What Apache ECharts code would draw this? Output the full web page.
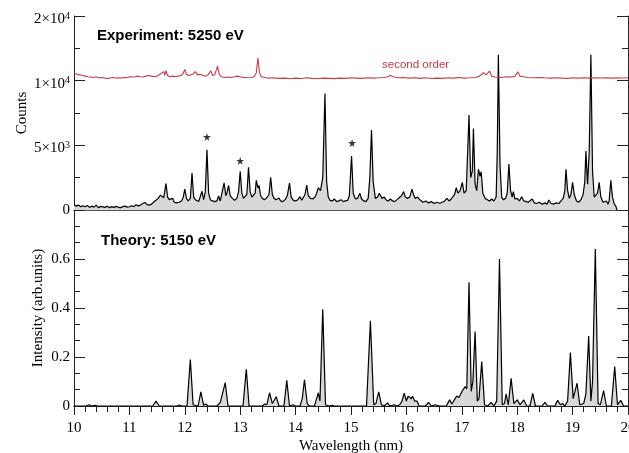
<!DOCTYPE html>
<html>
<head>
<meta charset="utf-8">
<script src="https://cdn.jsdelivr.net/npm/echarts@6/dist/echarts.min.js"></script>
<style>
html,body{margin:0;padding:0;background:#fff;}
#chart{width:629px;height:453px;}
</style>
</head>
<body>
<div id="chart"></div>
<script>
// ---- Data ----
// Experiment (counts) vs wavelength (nm)
var experimentData = [
[10.00,400],[10.04,300],[10.08,380],[10.12,260],[10.16,330],[10.20,250],[10.24,350],[10.28,200],[10.32,300],[10.36,220],
[10.40,380],[10.44,180],[10.48,280],[10.52,240],[10.56,200],[10.60,300],[10.64,180],[10.68,260],[10.72,200],[10.76,280],
[10.80,220],[10.84,170],[10.88,260],[10.92,300],[10.96,220],[11.00,250],[11.04,330],[11.08,260],[11.12,400],[11.16,320],
[11.20,380],[11.24,500],[11.28,580],[11.32,420],[11.36,380],[11.40,450],[11.44,620],[11.48,750],[11.52,900],[11.56,1150],
[11.59,1250],[11.62,950],[11.66,2050],[11.69,1000],[11.72,800],[11.75,700],[11.78,900],[11.81,600],[11.85,550],[11.90,600],
[11.94,700],[11.97,950],[12.00,1620],[12.03,900],[12.06,700],[12.10,900],[12.13,2850],[12.16,1000],[12.19,800],[12.22,700],
[12.25,650],[12.28,800],[12.31,1450],[12.34,800],[12.37,1400],[12.40,4650],[12.43,1300],[12.46,800],[12.50,700],[12.54,650],
[12.58,700],[12.61,1080],[12.64,700],[12.67,750],[12.71,2100],[12.74,1100],[12.76,1300],[12.79,1900],[12.82,1100],[12.86,900],
[12.90,750],[12.94,900],[12.97,1400],[13.00,3000],[13.03,1300],[13.06,900],[13.09,800],[13.12,1200],[13.15,3300],[13.18,1400],
[13.21,1000],[13.24,900],[13.27,1300],[13.29,2300],[13.32,1700],[13.34,1900],[13.37,1100],[13.40,900],[13.44,800],[13.48,950],
[13.52,1200],[13.55,2530],[13.58,1200],[13.61,900],[13.65,800],[13.70,930],[13.73,700],[13.77,650],[13.81,800],[13.85,1100],
[13.89,2080],[13.92,1000],[13.96,750],[14.00,700],[14.04,800],[14.08,1030],[14.11,750],[14.14,850],[14.17,1200],[14.20,1930],
[14.23,1100],[14.27,900],[14.31,850],[14.35,1000],[14.38,1300],[14.41,1720],[14.45,1500],[14.49,2500],[14.53,9000],[14.56,2200],
[14.59,1000],[14.62,750],[14.66,700],[14.70,850],[14.74,650],[14.78,700],[14.82,800],[14.86,650],[14.90,700],[14.94,750],
[14.97,1100],[15.01,4170],[15.04,1300],[15.08,850],[15.12,900],[15.16,1290],[15.19,850],[15.23,700],[15.27,650],[15.31,900],
[15.34,2500],[15.37,6180],[15.40,2200],[15.44,900],[15.48,1000],[15.51,1300],[15.53,1420],[15.56,900],[15.60,1000],[15.63,800],
[15.67,700],[15.71,850],[15.75,700],[15.79,650],[15.83,800],[15.87,950],[15.91,1100],[15.95,1420],[15.98,1000],[16.02,900],
[16.06,1000],[16.10,1620],[16.13,1160],[16.16,900],[16.20,1000],[16.25,770],[16.30,600],[16.35,700],[16.40,550],[16.45,650],
[16.50,500],[16.55,600],[16.60,520],[16.65,600],[16.69,700],[16.73,900],[16.77,700],[16.81,850],[16.84,1000],[16.87,1200],
[16.90,1720],[16.93,1300],[16.97,1500],[17.01,2140],[17.04,1300],[17.08,1500],[17.13,7340],[17.16,2500],[17.19,3000],[17.21,6300],
[17.24,2000],[17.27,1500],[17.30,3150],[17.33,2600],[17.35,2960],[17.38,1300],[17.42,900],[17.46,800],[17.50,700],[17.54,850],
[17.58,700],[17.62,1000],[17.64,4500],[17.66,12000],[17.69,3500],[17.72,1000],[17.75,800],[17.79,900],[17.82,1300],[17.85,3560],
[17.88,1500],[17.91,1000],[17.93,1420],[17.96,850],[18.00,900],[18.04,700],[18.08,1030],[18.12,700],[18.16,650],[18.20,600],
[18.23,650],[18.27,850],[18.31,550],[18.35,500],[18.40,600],[18.45,450],[18.50,550],[18.54,450],[18.57,770],[18.61,500],
[18.65,450],[18.70,550],[18.75,500],[18.79,700],[18.83,900],[18.86,1500],[18.88,3150],[18.91,1500],[18.94,900],[18.97,1200],
[19.00,2140],[19.03,1200],[19.07,700],[19.11,600],[19.15,800],[19.19,1200],[19.22,2200],[19.24,4560],[19.27,2000],[19.30,4500],
[19.33,12000],[19.36,3000],[19.39,1000],[19.42,900],[19.45,1300],[19.48,2140],[19.51,1000],[19.55,600],[19.58,500],[19.61,700],
[19.64,450],[19.66,700],[19.69,2300],[19.72,1000],[19.75,500],[19.78,300],[19.80,0]
];

// Second-order trace (counts, offset) vs wavelength (nm)
var secondOrderData = [
[10.00,10600],[10.05,10500],[10.10,10450],[10.15,10420],[10.20,10350],[10.25,10300],[10.30,10280],[10.35,10250],[10.40,10300],
[10.45,10220],[10.50,10250],[10.55,10200],[10.60,10180],[10.65,10200],[10.70,10250],[10.75,10200],[10.80,10220],[10.85,10200],
[10.90,10250],[10.95,10230],[11.00,10300],[11.05,10280],[11.10,10300],[11.15,10350],[11.20,10300],[11.25,10280],[11.30,10350],
[11.35,10400],[11.40,10350],[11.45,10300],[11.50,10350],[11.55,10500],[11.58,10450],[11.62,10700],[11.64,10400],[11.66,10780],
[11.69,10400],[11.73,10300],[11.78,10350],[11.83,10300],[11.88,10350],[11.93,10400],[11.97,10550],[12.00,10870],[12.03,10500],
[12.07,10400],[12.11,10450],[12.15,10500],[12.19,10700],[12.23,10450],[12.28,10500],[12.33,10400],[12.38,10350],[12.42,10450],
[12.47,10770],[12.50,10400],[12.54,10450],[12.59,11130],[12.62,10500],[12.66,10300],[12.72,10250],[12.78,10280],[12.84,10250],
[12.90,10300],[12.95,10350],[13.00,10300],[13.05,10250],[13.10,10250],[13.15,10230],[13.20,10250],[13.25,10300],[13.29,10600],
[13.32,11750],[13.35,10600],[13.38,10300],[13.45,10250],[13.50,10200],[13.60,10230],[13.70,10180],[13.80,10200],[13.90,10150],
[14.00,10200],[14.10,10170],[14.20,10220],[14.30,10180],[14.40,10150],[14.50,10200],[14.60,10180],[14.70,10160],[14.80,10200],
[14.90,10180],[15.00,10220],[15.10,10200],[15.20,10180],[15.30,10230],[15.40,10200],[15.50,10220],[15.60,10250],[15.66,10300],
[15.71,10400],[15.76,10300],[15.85,10230],[15.95,10250],[16.05,10200],[16.15,10230],[16.25,10180],[16.35,10220],[16.45,10170],
[16.55,10200],[16.65,10180],[16.75,10220],[16.85,10200],[16.95,10250],[17.05,10200],[17.15,10220],[17.25,10250],[17.32,10350],
[17.39,10610],[17.44,10450],[17.50,10740],[17.54,10350],[17.60,10280],[17.70,10250],[17.80,10300],[17.90,10280],[17.96,10350],
[18.01,10690],[18.05,10350],[18.12,10300],[18.20,10250],[18.30,10230],[18.40,10250],[18.50,10220],[18.60,10200],[18.70,10230],
[18.80,10200],[18.90,10180],[19.00,10220],[19.10,10200],[19.20,10230],[19.30,10200],[19.40,10220],[19.50,10210],[19.60,10230],
[19.70,10200],[19.80,10220],[19.90,10210],[20.00,10230]
];

// Asterisk marks above selected experimental lines
var starMarks = [[12.40,5650],[13.00,3800],[15.02,5180]];

// Theory (arb. units) vs wavelength (nm)
var theoryData = [
[10.00,0],[10.22,0],[10.27,0.005],[10.32,0],[10.38,0.003],[10.42,0],[11.00,0],[11.42,0],[11.48,0.02],[11.54,0],
[11.85,0],[11.90,0.004],[11.95,0],[12.04,0],[12.10,0.19],[12.15,0.005],[12.24,0],[12.29,0.058],[12.34,0.003],[12.38,0.008],
[12.42,0],[12.58,0],[12.64,0.015],[12.67,0.02],[12.73,0.095],[12.78,0],[13.05,0],[13.11,0.15],[13.16,0],[13.40,0],
[13.44,0.008],[13.48,0.005],[13.53,0.054],[13.58,0.01],[13.65,0.038],[13.70,0],[13.79,0],[13.84,0.105],[13.89,0],[13.95,0.005],
[14.00,0],[14.08,0],[14.12,0.03],[14.16,0.107],[14.21,0.01],[14.25,0],[14.34,0],[14.38,0.03],[14.41,0.054],[14.44,0.02],
[14.49,0.395],[14.54,0.005],[14.60,0],[14.66,0.003],[14.70,0],[15.28,0],[15.35,0.348],[15.41,0.005],[15.45,0.01],[15.50,0.058],
[15.55,0.005],[15.60,0],[15.66,0.013],[15.70,0],[15.78,0.005],[15.83,0],[15.88,0.005],[15.92,0.02],[15.96,0.052],[16.00,0.02],
[16.03,0.04],[16.06,0.048],[16.09,0.03],[16.11,0.04],[16.15,0.02],[16.19,0.02],[16.23,0],[16.34,0],[16.40,0.015],[16.45,0],
[16.52,0.005],[16.60,0],[16.72,0],[16.78,0.025],[16.82,0.008],[16.88,0.03],[16.91,0.041],[16.95,0.035],[17.00,0.058],[17.03,0.06],
[17.06,0.079],[17.09,0.07],[17.13,0.505],[17.17,0.06],[17.20,0.1],[17.24,0.304],[17.28,0.02],[17.31,0.03],[17.36,0.181],[17.41,0.005],
[17.47,0],[17.53,0.015],[17.58,0],[17.63,0.02],[17.68,0.60],[17.73,0.005],[17.77,0.01],[17.80,0.049],[17.84,0.005],[17.89,0.113],
[17.94,0.01],[18.00,0.025],[18.05,0.005],[18.12,0.025],[18.17,0],[18.23,0],[18.28,0.052],[18.33,0],[18.45,0],[18.50,0.015],
[18.55,0],[18.68,0],[18.73,0.023],[18.78,0.005],[18.82,0.01],[18.86,0],[18.91,0.02],[18.96,0.218],[19.01,0.03],[19.08,0.093],
[19.13,0.005],[19.20,0.01],[19.24,0.05],[19.29,0.286],[19.33,0.02],[19.36,0.1],[19.41,0.641],[19.46,0.01],[19.50,0.005],[19.56,0.063],
[19.61,0],[19.70,0],[19.76,0.161],[19.81,0.005],[19.87,0.023],[19.92,0],[20.00,0]
];

// Tick labels of the upper panel (mantissa|exponent), as printed in the reference
var topTickLabels = ['0', '5\u00d710|3', '1\u00d710|4', '2\u00d710|4'];
var bottomTickLabels = ['0', '0.2', '0.4', '0.6', ''];
var xTickLabels = ['10','11','12','13','14','15','16','17','18','19','20'];

// ---- Chart ----
var SERIF = "'Liberation Serif','Times New Roman',serif";
var SANS = "'Liberation Sans',Arial,sans-serif";
var AX = '#222';
var RED = '#c83c46';

var chart = echarts.init(document.getElementById('chart'), null, {renderer:'canvas'});

function topLabel(v){
  var s = topTickLabels[Math.round(v/5000)];
  if (s === undefined) return '';
  if (s.indexOf('|') < 0) return '{z|' + s + '}';
  var p = s.split('|');
  return '{m|' + p[0] + '}{s|' + p[1] + '}';
}

var line = {show:true, lineStyle:{color:AX, width:1}};

var option = {
  animation:false,
  backgroundColor:'#fff',
  grid:[
    {left:74, top:16, width:554, height:194, containLabel:false, outerBoundsMode:'none'},
    {left:74, top:210, width:554, height:196, containLabel:false, outerBoundsMode:'none'}
  ],
  xAxis:[
    {gridIndex:0, type:'value', min:10, max:20, interval:1, position:'bottom',
     axisLine:line, axisTick:{show:false}, axisLabel:{show:false}, splitLine:{show:false}},
    {gridIndex:0, type:'value', min:10, max:20, interval:1, position:'top',
     axisLine:{show:true, lineStyle:{color:'#555', width:1}}, axisTick:{show:false}, axisLabel:{show:false}, splitLine:{show:false}},
    {gridIndex:1, type:'value', min:10, max:20, interval:1, position:'top',
     axisLine:line, axisTick:{show:true, inside:true, length:9, lineStyle:{color:AX}},
     minorTick:{show:true, splitNumber:5, length:6, lineStyle:{color:AX}},
     axisLabel:{show:false}, splitLine:{show:false}},
    {gridIndex:1, type:'value', min:10, max:20, interval:1, position:'bottom',
     axisLine:line, axisTick:{show:true, inside:false, length:8, lineStyle:{color:AX}},
     minorTick:{show:true, splitNumber:5, length:5, lineStyle:{color:AX}},
     axisLabel:{show:true, margin:15, color:'#000', fontFamily:SERIF, fontSize:15,
       formatter:function(v){ var i=Math.round(v-10); return xTickLabels[i]!==undefined?xTickLabels[i]:''; }},
     splitLine:{show:false},
     name:'Wavelength (nm)', nameLocation:'middle', nameGap:33, nameMoveOverlap:false,
     nameTextStyle:{color:'#000', fontFamily:SERIF, fontSize:15}}
  ],
  yAxis:[
    {gridIndex:0, type:'value', min:0, max:15000, interval:5000, position:'left',
     axisLine:line, axisTick:{show:true, inside:true, length:11, lineStyle:{color:AX}},
     minorTick:{show:true, splitNumber:2, length:6, lineStyle:{color:AX}},
     splitLine:{show:false},
     axisLabel:{show:true, margin:4, color:'#000', fontFamily:SERIF, fontSize:15,
       formatter:topLabel,
       rich:{
         z:{fontFamily:SERIF, fontSize:15, color:'#000'},
         m:{fontFamily:SERIF, fontSize:15, color:'#000', lineHeight:16, padding:[6,0,0,0]},
         s:{fontFamily:SERIF, fontSize:10, color:'#000', lineHeight:10, padding:[3,0,0,0], verticalAlign:'top'}
       }},
     name:'Counts', nameLocation:'middle', nameGap:44, nameRotate:90, nameMoveOverlap:false,
     nameTextStyle:{color:'#000', fontFamily:SERIF, fontSize:15}},
    {gridIndex:0, type:'value', min:0, max:15000, interval:5000, position:'right',
     axisLine:line, axisTick:{show:true, inside:true, length:11, lineStyle:{color:AX}},
     minorTick:{show:true, splitNumber:2, length:6, lineStyle:{color:AX}},
     splitLine:{show:false}, axisLabel:{show:false}},
    {gridIndex:1, type:'value', min:0, max:0.8, interval:0.2, position:'left',
     axisLine:line, axisTick:{show:true, inside:true, length:11, lineStyle:{color:AX}},
     minorTick:{show:true, splitNumber:3, length:6, lineStyle:{color:AX}},
     splitLine:{show:false},
     axisLabel:{show:true, margin:4, color:'#000', fontFamily:SERIF, fontSize:15,
       formatter:function(v){ var i=Math.round(v/0.2); return bottomTickLabels[i]!==undefined?bottomTickLabels[i]:''; }},
     name:'Intensity (arb.units)', nameLocation:'middle', nameGap:28, nameRotate:90, nameMoveOverlap:false,
     nameTextStyle:{color:'#000', fontFamily:SERIF, fontSize:15}},
    {gridIndex:1, type:'value', min:0, max:0.8, interval:0.2, position:'right',
     axisLine:line, axisTick:{show:true, inside:true, length:11, lineStyle:{color:AX}},
     minorTick:{show:true, splitNumber:3, length:6, lineStyle:{color:AX}},
     splitLine:{show:false}, axisLabel:{show:false}}
  ],
  series:[
    {type:'line', xAxisIndex:0, yAxisIndex:0, data:experimentData, symbol:'none', smooth:false,
     lineStyle:{color:'#000', width:1.2}, areaStyle:{color:'#d8d8d8', opacity:1}, z:3},
    {type:'line', xAxisIndex:0, yAxisIndex:0, data:secondOrderData, symbol:'none',
     lineStyle:{color:RED, width:1.1}, z:4},
    {type:'scatter', xAxisIndex:0, yAxisIndex:0, data:starMarks,
     symbol:'path://M50,0 L61,35 L98,35 L68,57 L79,91 L50,70 L21,91 L32,57 L2,35 L39,35 Z',
     symbolSize:8, itemStyle:{color:'#000'}, z:5},
    {type:'line', xAxisIndex:3, yAxisIndex:2, data:theoryData, symbol:'none',
     lineStyle:{color:'#000', width:1.2}, areaStyle:{color:'#d8d8d8', opacity:1}, z:3}
  ],
  graphic:[
    {type:'text', left:97, top:28, style:{text:'Experiment: 5250 eV', fill:'#000', font:'bold 15px '+SANS}},
    {type:'text', left:101, top:233, style:{text:'Theory: 5150 eV', fill:'#000', font:'bold 15px '+SANS}},
    {type:'text', left:382, top:59, style:{text:'second order', fill:RED, font:'11.5px '+SANS}}
  ]
};
chart.setOption(option);
</script>
</body>
</html>
